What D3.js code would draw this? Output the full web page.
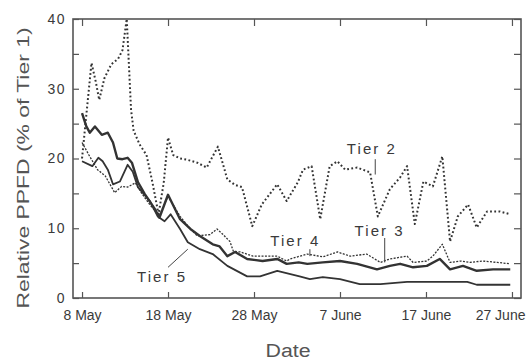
<!DOCTYPE html>
<html>
<head>
<meta charset="utf-8">
<script src="https://cdn.jsdelivr.net/npm/d3@7"></script>
<style>
  body { margin: 0; background: #fff; }
  text { font-family: "Liberation Sans", Arial, sans-serif; fill: #3a3a3a; }
</style>
</head>
<body>
<div id="chart"></div>
<script>
const width = 528;
const height = 361;

// x values are days after 8 May
const tickDays = [0, 10, 20, 30, 40, 50];
const tickLabels = ["8 May", "18 May", "28 May", "7 June", "17 June", "27 June"];
const yTicks = [0, 5, 10, 15, 20, 25, 30, 35, 40];

const tier2Days = [0, 1.1, 1.6, 2.0, 2.6, 3.4, 4.2, 4.7, 5.2, 5.7, 6.0, 6.7, 7.5, 8.2, 8.9, 9.5, 10.0, 10.6, 11.4, 12.3, 13.4, 14.5, 15.8, 16.9, 17.8, 18.6, 19.8, 20.9, 22.7, 23.8, 25.1, 25.7, 26.7, 27.7, 28.8, 29.7, 30.6, 32.0, 33.5, 34.4, 35.8, 37.0, 37.8, 38.7, 39.7, 40.8, 41.9, 42.8, 43.7, 44.9, 45.9, 47.1, 48.6, 49.8];
const tier2Values = [20, 33.7, 31, 28.4, 31.5, 33.5, 34.3, 35.5, 40, 27, 24, 22, 20.5, 16.5, 12, 16.5, 23, 20.5, 20, 19.8, 19.4, 18.7, 21.7, 17, 16.2, 15.9, 10.3, 13.4, 16.3, 13.9, 16.6, 18.4, 18.9, 11.3, 18.9, 19.6, 18.4, 18.7, 18, 11.7, 15.6, 17.3, 18.9, 10.6, 16.7, 16, 20.3, 8.1, 11.7, 13.4, 10.1, 12.4, 12.4, 12];

const tier3Days = [0, 0.8, 1.8, 2.7, 3.8, 4.6, 5.3, 6.2, 7.0, 8.0, 9.0, 10.0, 11.4, 12.4, 13.4, 14.9, 15.7, 16.4, 17.2, 17.6, 18.4, 19.9, 22.7, 23.8, 24.2, 26.2, 28.0, 29.7, 31.2, 33.1, 34.7, 35.8, 37.8, 38.5, 40.1, 40.8, 41.9, 42.8, 44.0, 45.1, 46.6, 48.3, 49.8];
const tier3Values = [22.3, 20.5, 18.4, 17.5, 15.1, 16, 15.9, 16.5, 14.9, 13.2, 11.8, 14.6, 11.7, 10.2, 8.9, 9.1, 9.9, 9.1, 8.1, 6.7, 6.6, 6, 6, 5.3, 5.6, 6.3, 5.9, 6.6, 6, 6.3, 5.1, 5.6, 6, 5.1, 5.3, 6, 7.7, 5.1, 5.3, 5.1, 5.3, 5.1, 4.9];

const tier4Days = [0, 0.5, 0.9, 1.5, 2.3, 3.0, 3.6, 4.1, 4.7, 5.3, 5.8, 6.5, 7.3, 8.5, 9.0, 10.0, 11.4, 12.6, 13.7, 15.2, 16.0, 16.9, 17.8, 19.2, 21.0, 22.7, 23.8, 25.2, 26.2, 28.0, 30.0, 32.0, 34.3, 35.8, 37.0, 38.5, 40.1, 41.6, 42.8, 44.3, 45.9, 47.8, 49.8];
const tier4Values = [26.5, 24.6, 23.7, 24.6, 23.4, 23.7, 22.3, 20, 19.9, 20.1, 19.4, 16.6, 14.9, 12.7, 11.5, 14.8, 11.3, 9.9, 8.9, 7.7, 7.4, 6, 6.6, 5.6, 5.3, 5.6, 4.9, 5.1, 4.9, 5.1, 5.3, 4.9, 4.1, 4.6, 4.9, 4.4, 4.6, 5.6, 4.1, 4.6, 3.9, 4.1, 4.1];

const tier5Days = [0, 1.2, 1.9, 2.4, 3.0, 3.6, 4.4, 5.3, 5.9, 6.5, 7.9, 8.8, 9.6, 10.3, 11.4, 12.3, 13.7, 15.2, 16.9, 19.2, 20.7, 22.7, 25.3, 26.5, 28.0, 30.0, 32.3, 34.7, 37.8, 44.8, 45.9, 49.8];
const tier5Values = [19.6, 18.9, 20.1, 19.6, 18.4, 16.3, 16.7, 19.1, 18.1, 15.9, 13.9, 11.7, 11, 12, 9.9, 8, 7, 6.3, 4.6, 3.1, 3.1, 3.9, 3.1, 2.7, 3, 2.7, 2, 2, 2.3, 2.3, 1.9, 1.9];

const margin = { top: 19, right: 7, bottom: 63, left: 73 };

const svg = d3
  .select("#chart")
  .append("svg")
  .attr("width", width)
  .attr("height", height);

const x = d3
  .scaleLinear()
  .domain([-1.05, 51.05])
  .range([margin.left, width - margin.right]);

const y = d3
  .scaleLinear()
  .domain([0, 40])
  .range([height - margin.bottom, margin.top]);

const series = [
  { days: tier2Days, values: tier2Values, width: 2, dash: "1.8,2.4" },
  { days: tier3Days, values: tier3Values, width: 1.3, dash: "2,1.4" },
  { days: tier4Days, values: tier4Values, width: 2.4, dash: null },
  { days: tier5Days, values: tier5Values, width: 1.8, dash: null },
];

const line = d3
  .line()
  .x((d) => x(d[0]))
  .y((d) => y(d[1]));

svg
  .append("g")
  .selectAll("path")
  .data(series)
  .enter()
  .append("path")
  .attr("d", (s) => line(d3.zip(s.days, s.values)))
  .attr("fill", "none")
  .attr("stroke", "#333")
  .attr("stroke-width", (s) => s.width)
  .attr("stroke-dasharray", (s) => s.dash)
  .attr("stroke-linejoin", "round");

// axes, ticks pointing inward on all four sides
const bottomAxis = d3
  .axisBottom(x)
  .tickValues(tickDays)
  .tickFormat((d, i) => tickLabels[i])
  .tickSize(-6)
  .tickPadding(12);

const topAxis = d3.axisTop(x).tickValues(tickDays).tickFormat("").tickSize(-7);

const leftAxis = d3
  .axisLeft(y)
  .tickValues(yTicks)
  .tickFormat((d) => (d % 10 === 0 ? d : ""))
  .tickSize(-6)
  .tickPadding(7);

const rightAxis = d3.axisRight(y).tickValues(yTicks).tickFormat("").tickSize(-7);

function styleAxis(g) {
  g.select(".domain").remove();
  g.selectAll("line").attr("stroke", "#555").attr("stroke-width", 1.2);
  g.selectAll("text")
    .attr("fill", "#3a3a3a")
    .style("font-size", "14px");
}

const xAxisG = svg
  .append("g")
  .attr("transform", `translate(0,${height - margin.bottom})`)
  .call(bottomAxis)
  .call(styleAxis);

// last date label sits flush with the right edge, as in the original
xAxisG
  .selectAll(".tick text")
  .filter((d, i) => i === tickLabels.length - 1)
  .attr("text-anchor", "end")
  .attr("x", 13);

svg
  .append("g")
  .attr("transform", `translate(0,${margin.top})`)
  .call(topAxis)
  .call(styleAxis);

svg
  .append("g")
  .attr("transform", `translate(${margin.left},0)`)
  .call(leftAxis)
  .call(styleAxis)
  .selectAll("text")
  .style("letter-spacing", "1.5px");

svg
  .append("g")
  .attr("transform", `translate(${width - margin.right},0)`)
  .call(rightAxis)
  .call(styleAxis);

svg
  .append("rect")
  .attr("x", margin.left)
  .attr("y", margin.top)
  .attr("width", width - margin.left - margin.right)
  .attr("height", height - margin.top - margin.bottom)
  .attr("fill", "none")
  .attr("stroke", "#555")
  .attr("stroke-width", 1.6);

// axis titles
svg
  .append("text")
  .attr("x", 288)
  .attr("y", 357)
  .attr("text-anchor", "middle")
  .attr("textLength", 45)
  .attr("lengthAdjust", "spacingAndGlyphs")
  .style("font-size", "18px")
  .style("fill", "#555")
  .text("Date");

svg
  .append("text")
  .attr("transform", "translate(29,168) rotate(-90)")
  .attr("text-anchor", "middle")
  .attr("textLength", 281)
  .attr("lengthAdjust", "spacingAndGlyphs")
  .style("font-size", "17px")
  .style("fill", "#555")
  .text("Relative PPFD (% of Tier 1)");

// tier annotations: label position and pointer, in data units
const notes = [
  { label: "Tier 2", day: 30.8, value: 20.7, from: [34.1, 19.9], to: [34.1, 17.7] },
  { label: "Tier 3", day: 31.7, value: 8.9, from: [35.2, 8.6], to: [35.2, 5.1] },
  { label: "Tier 4", day: 21.9, value: 7.4, from: [26.5, 7.0], to: [26.5, 6.0] },
  { label: "Tier 5", day: 6.4, value: 2.3, from: [10.0, 4.4], to: [12.3, 7.0] },
];

const noteG = svg.append("g");

noteG
  .selectAll("text")
  .data(notes)
  .enter()
  .append("text")
  .attr("x", (d) => x(d.day))
  .attr("y", (d) => y(d.value))
  .attr("textLength", 48)
  .attr("lengthAdjust", "spacing")
  .style("font-size", "15px")
  .style("fill", "#3a3a3a")
  .text((d) => d.label);

noteG
  .selectAll("line")
  .data(notes)
  .enter()
  .append("line")
  .attr("x1", (d) => x(d.from[0]))
  .attr("y1", (d) => y(d.from[1]))
  .attr("x2", (d) => x(d.to[0]))
  .attr("y2", (d) => y(d.to[1]))
  .attr("stroke", "#444")
  .attr("stroke-width", 1);
</script>
</body>
</html>
